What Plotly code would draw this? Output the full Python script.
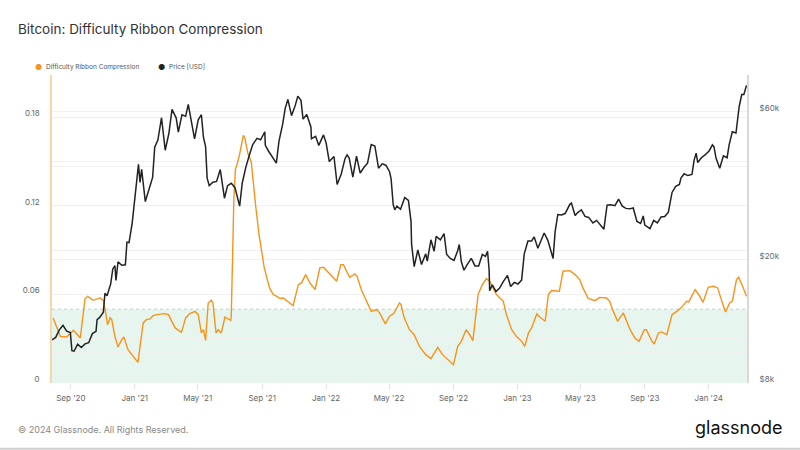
import plotly.graph_objects as go

# ---------------- data ----------------
drc_dates = [
    "2020-07-29", "2020-08-12", "2020-08-24", "2020-09-06", "2020-09-19", "2020-09-28", "2020-10-03",
    "2020-10-14", "2020-10-27", "2020-11-02", "2020-11-07", "2020-11-10", "2020-11-15", "2020-11-18",
    "2020-11-24", "2020-11-30", "2020-12-07", "2020-12-11", "2020-12-19", "2020-12-29", "2021-01-07",
    "2021-01-17", "2021-01-23", "2021-01-30", "2021-02-05", "2021-02-12", "2021-02-27", "2021-03-06",
    "2021-03-19", "2021-03-31", "2021-04-08", "2021-04-16", "2021-04-26", "2021-05-02", "2021-05-08",
    "2021-05-12", "2021-05-16", "2021-05-21", "2021-05-27", "2021-05-30", "2021-06-03", "2021-06-05",
    "2021-06-09", "2021-06-15", "2021-06-22", "2021-06-28", "2021-07-03", "2021-07-04", "2021-07-06",
    "2021-07-09", "2021-07-12", "2021-07-15", "2021-07-20", "2021-07-27", "2021-07-30", "2021-08-05",
    "2021-08-11", "2021-08-14", "2021-08-20", "2021-08-26", "2021-09-05", "2021-09-15", "2021-09-22",
    "2021-09-29", "2021-10-05", "2021-10-11", "2021-10-18", "2021-10-30", "2021-11-09", "2021-11-15",
    "2021-11-23", "2021-12-01", "2021-12-11", "2021-12-20", "2021-12-27", "2022-01-02", "2022-01-15",
    "2022-01-21", "2022-01-29", "2022-02-03", "2022-02-09", "2022-02-15", "2022-02-25", "2022-03-01",
    "2022-03-09", "2022-03-19", "2022-03-28", "2022-04-07", "2022-04-13", "2022-04-24", "2022-05-02",
    "2022-05-10", "2022-05-21", "2022-05-24", "2022-05-30", "2022-06-09", "2022-06-18", "2022-06-28",
    "2022-07-10", "2022-07-20", "2022-08-02", "2022-08-11", "2022-08-24", "2022-09-01", "2022-09-09",
    "2022-09-16", "2022-09-25", "2022-10-02", "2022-10-08", "2022-10-18", "2022-10-26", "2022-11-03",
    "2022-11-09", "2022-11-22", "2022-12-05", "2022-12-11", "2022-12-21", "2022-12-30", "2023-01-09",
    "2023-01-15", "2023-01-22", "2023-01-28", "2023-02-07", "2023-02-13", "2023-02-23", "2023-03-01",
    "2023-03-07", "2023-03-22", "2023-03-29", "2023-04-08", "2023-04-11", "2023-04-21", "2023-04-30",
    "2023-05-06", "2023-05-16", "2023-05-29", "2023-06-07", "2023-06-20", "2023-06-26", "2023-07-03",
    "2023-07-11", "2023-07-22", "2023-07-28", "2023-08-04", "2023-08-13", "2023-08-21", "2023-08-31",
    "2023-09-04", "2023-09-14", "2023-09-19", "2023-09-27", "2023-10-03", "2023-10-13", "2023-10-23",
    "2023-11-01", "2023-11-09", "2023-11-20", "2023-11-24", "2023-12-06", "2023-12-15", "2023-12-21",
    "2023-12-31", "2024-01-10", "2024-01-18", "2024-01-26", "2024-02-02", "2024-02-10", "2024-02-15",
    "2024-02-23", "2024-02-27", "2024-03-07", "2024-03-13",
]
drc_values = [
    0.0441, 0.0316, 0.0312, 0.0357, 0.0305, 0.0570, 0.0587,
    0.0560, 0.0576, 0.0560, 0.0463, 0.0395, 0.0441, 0.0429,
    0.0316, 0.0244, 0.0294, 0.0312, 0.0226, 0.0180, 0.0140,
    0.0407, 0.0429, 0.0434, 0.0456, 0.0463, 0.0470, 0.0463,
    0.0373, 0.0343, 0.0441, 0.0470, 0.0485, 0.0463, 0.0339,
    0.0361, 0.0289, 0.0542, 0.0560, 0.0542, 0.0407, 0.0339,
    0.0361, 0.0339, 0.0447, 0.0434, 0.0424, 0.0450, 0.0800,
    0.1250, 0.1450, 0.1480, 0.1550, 0.1677, 0.1660, 0.1550,
    0.1500, 0.1390, 0.1187, 0.1005, 0.0780, 0.0644, 0.0599,
    0.0587, 0.0572, 0.0576, 0.0558, 0.0524, 0.0666, 0.0678,
    0.0734, 0.0678, 0.0633, 0.0780, 0.0784, 0.0761, 0.0712,
    0.0689, 0.0802, 0.0802, 0.0757, 0.0716, 0.0739, 0.0723,
    0.0633, 0.0553, 0.0485, 0.0497, 0.0475, 0.0400, 0.0452,
    0.0470, 0.0542, 0.0531, 0.0441, 0.0361, 0.0327, 0.0248,
    0.0192, 0.0165, 0.0241, 0.0192, 0.0151, 0.0124, 0.0248,
    0.0282, 0.0361, 0.0327, 0.0287, 0.0599, 0.0666, 0.0707,
    0.0689, 0.0599, 0.0553, 0.0463, 0.0361, 0.0316, 0.0282,
    0.0248, 0.0339, 0.0373, 0.0468, 0.0445, 0.0418, 0.0599,
    0.0626, 0.0621, 0.0757, 0.0761, 0.0761, 0.0734, 0.0700,
    0.0644, 0.0572, 0.0558, 0.0580, 0.0576, 0.0553, 0.0485,
    0.0418, 0.0475, 0.0418, 0.0361, 0.0305, 0.0282, 0.0361,
    0.0361, 0.0287, 0.0264, 0.0339, 0.0346, 0.0327, 0.0463,
    0.0485, 0.0509, 0.0553, 0.0549, 0.0633, 0.0587, 0.0546,
    0.0648, 0.0655, 0.0644, 0.0553, 0.0481, 0.0542, 0.0553,
    0.0700, 0.0716, 0.0644, 0.0587,
]

price_dates = [
    "2020-07-27", "2020-08-03", "2020-08-10", "2020-08-17", "2020-08-24", "2020-08-31", "2020-09-03",
    "2020-09-07", "2020-09-14", "2020-09-21", "2020-09-28", "2020-10-05", "2020-10-12", "2020-10-19",
    "2020-10-21", "2020-10-26", "2020-11-02", "2020-11-05", "2020-11-09", "2020-11-16", "2020-11-20",
    "2020-11-24", "2020-11-26", "2020-11-30", "2020-12-07", "2020-12-14", "2020-12-17", "2020-12-21",
    "2020-12-27", "2021-01-02", "2021-01-08", "2021-01-11", "2021-01-14", "2021-01-21", "2021-01-28",
    "2021-02-04", "2021-02-08", "2021-02-14", "2021-02-21", "2021-02-28", "2021-03-07", "2021-03-13",
    "2021-03-21", "2021-03-25", "2021-04-01", "2021-04-08", "2021-04-13", "2021-04-18", "2021-04-25",
    "2021-05-02", "2021-05-08", "2021-05-12", "2021-05-16", "2021-05-19", "2021-05-23", "2021-05-30",
    "2021-06-06", "2021-06-13", "2021-06-21", "2021-06-27", "2021-07-04", "2021-07-11", "2021-07-20",
    "2021-07-25", "2021-08-01", "2021-08-08", "2021-08-14", "2021-08-22", "2021-08-29", "2021-09-06",
    "2021-09-07", "2021-09-13", "2021-09-20", "2021-09-28", "2021-10-03", "2021-10-10", "2021-10-15",
    "2021-10-20", "2021-10-27", "2021-11-03", "2021-11-08", "2021-11-14", "2021-11-18", "2021-11-25",
    "2021-12-03", "2021-12-04", "2021-12-12", "2021-12-18", "2021-12-27", "2022-01-01", "2022-01-07",
    "2022-01-16", "2022-01-22", "2022-01-30", "2022-02-06", "2022-02-10", "2022-02-14", "2022-02-21",
    "2022-02-28", "2022-03-07", "2022-03-14", "2022-03-21", "2022-03-28", "2022-04-04", "2022-04-11",
    "2022-04-18", "2022-04-25", "2022-05-02", "2022-05-05", "2022-05-09", "2022-05-12", "2022-05-16",
    "2022-05-23", "2022-05-31", "2022-06-07", "2022-06-12", "2022-06-13", "2022-06-18", "2022-06-25",
    "2022-07-02", "2022-07-10", "2022-07-13", "2022-07-20", "2022-07-26", "2022-07-30", "2022-08-07",
    "2022-08-14", "2022-08-19", "2022-08-26", "2022-09-02", "2022-09-09", "2022-09-12", "2022-09-16",
    "2022-09-21", "2022-09-28", "2022-10-05", "2022-10-12", "2022-10-19", "2022-10-26", "2022-11-01",
    "2022-11-05", "2022-11-08", "2022-11-09", "2022-11-14", "2022-11-21", "2022-11-28", "2022-12-05",
    "2022-12-13", "2022-12-19", "2022-12-26", "2023-01-02", "2023-01-09", "2023-01-14", "2023-01-21",
    "2023-01-28", "2023-02-02", "2023-02-09", "2023-02-16", "2023-02-21", "2023-02-28", "2023-03-09",
    "2023-03-10", "2023-03-14", "2023-03-19", "2023-03-26", "2023-04-02", "2023-04-11", "2023-04-14",
    "2023-04-21", "2023-04-26", "2023-05-03", "2023-05-10", "2023-05-17", "2023-05-25", "2023-06-01",
    "2023-06-10", "2023-06-15", "2023-06-21", "2023-06-28", "2023-07-06", "2023-07-13", "2023-07-20",
    "2023-07-27", "2023-08-03", "2023-08-10", "2023-08-17", "2023-08-24", "2023-08-29", "2023-09-01",
    "2023-09-11", "2023-09-18", "2023-09-25", "2023-10-02", "2023-10-09", "2023-10-16", "2023-10-23",
    "2023-10-30", "2023-11-06", "2023-11-09", "2023-11-15", "2023-11-22", "2023-11-30", "2023-12-04",
    "2023-12-08", "2023-12-11", "2023-12-18", "2023-12-25", "2024-01-02", "2024-01-08", "2024-01-11",
    "2024-01-15", "2024-01-22", "2024-01-29", "2024-02-05", "2024-02-09", "2024-02-15", "2024-02-22",
    "2024-02-28", "2024-03-04", "2024-03-08", "2024-03-11", "2024-03-13",
]
price_values = [
    11030, 11230, 11880, 12290, 11760, 11650, 10170,
    10130, 10680, 10420, 10700, 10790, 11550, 11750,
    12820, 13030, 13550, 15590, 15300, 16720, 18680,
    19160, 17150, 19700, 19190, 19270, 22800, 22720,
    26270, 32130, 40670, 35570, 39190, 30830, 33470,
    36900, 46200, 48700, 57490, 45140, 51200, 61200,
    57350, 51700, 58800, 58100, 63500, 56200, 49100,
    56600, 58800, 49700, 46400, 36700, 34700, 35600,
    35800, 39100, 31600, 34700, 35300, 34240, 29800,
    35400, 39900, 43800, 47100, 49300, 48800, 51800,
    46800, 44900, 43000, 41000, 48200, 54700, 61700,
    65900, 58400, 62900, 67500, 65500, 56900, 58900,
    53700, 49200, 50100, 46800, 50600, 47700, 41500,
    43100, 35000, 37900, 42400, 43600, 42600, 37000,
    43200, 38100, 39700, 41000, 47100, 46600, 39500,
    40800, 40400, 38500, 36500, 30100, 29000, 29800,
    29100, 31800, 31100, 26600, 22500, 19000, 21500,
    19300, 20900, 19800, 23200, 21300, 23800, 23200,
    24300, 20800, 20200, 19900, 21400, 22400, 19700,
    18500, 19400, 20200, 19100, 19100, 20800, 20500,
    21300, 18500, 15900, 16600, 15800, 16200, 17000,
    17800, 16400, 16900, 16700, 17200, 20900, 23000,
    23000, 23700, 21800, 23500, 24400, 23100, 20400,
    20200, 24700, 28000, 27900, 28200, 30200, 30500,
    27800, 28400, 29000, 27600, 27400, 26300, 26800,
    25800, 25100, 30000, 30100, 29900, 31400, 29800,
    29300, 29200, 29400, 26600, 26200, 27700, 25900,
    25200, 26800, 26300, 27500, 27600, 28500, 33000,
    34500, 35000, 36700, 37900, 37400, 37700, 41900,
    44200, 41200, 42700, 43600, 45000, 47000, 46300,
    42500, 39500, 43300, 42700, 47100, 51800, 51300,
    62400, 68300, 68300, 72100, 73100,
]

left_tickvals = [0, 0.03, 0.06, 0.09, 0.12, 0.15, 0.18]
left_ticktext = ["0", "", "0.06", "", "0.12", "", "0.18"]
right_tickvals = [8000, 10000, 20000, 40000, 60000]
right_ticktext = ["$8k", "", "$20k", "", "$60k"]
x_tickvals = ["2020-09-01", "2021-01-01", "2021-05-01", "2021-09-01", "2022-01-01", "2022-05-01",
              "2022-09-01", "2023-01-01", "2023-05-01", "2023-09-01", "2024-01-01"]
x_ticktext = ["Sep '20", "Jan '21", "May '21", "Sep '21", "Jan '22", "May '22",
              "Sep '22", "Jan '23", "May '23", "Sep '23", "Jan '24"]
band_threshold = 0.05

# ---------------- layout geometry ----------------
W, H = 800, 450
L, R, T, B = 52, 747, 75, 383.3
pw, ph = R - L, B - T


def px(x):
    return (x - L) / pw


def py(y):
    return (B - y) / ph


ORANGE = "#f7931a"
DARK = "#222222"
FONT = "Inter, 'Open Sans', sans-serif"

fig = go.Figure()
fig.add_trace(go.Scatter(x=drc_dates, y=drc_values, mode="lines", name="Difficulty Ribbon Compression",
                         line=dict(color=ORANGE, width=1.4), yaxis="y", showlegend=False))
fig.add_trace(go.Scatter(x=price_dates, y=price_values, mode="lines", name="Price [USD]",
                         line=dict(color=DARK, width=1.5), yaxis="y2", showlegend=False))

# green band
fig.add_shape(type="rect", xref="paper", yref="y", x0=0, x1=1, y0=0, y1=band_threshold,
              fillcolor="#e6f6ee", line=dict(width=0), layer="below")
fig.add_shape(type="line", xref="paper", yref="y", x0=0, x1=1, y0=band_threshold, y1=band_threshold,
              line=dict(color="#bcd3c6", width=1, dash="dot"), layer="below")
# bottom border
fig.add_shape(type="line", xref="paper", yref="paper", x0=px(0), x1=px(W), y0=py(449), y1=py(449),
              line=dict(color="#cfcfcf", width=2))

tickfont = dict(family=FONT, size=8, color="#666")
fig.update_layout(
    width=W, height=H,
    margin=dict(l=L, r=W - R, t=T, b=H - B),
    paper_bgcolor="white", plot_bgcolor="white",
    font=dict(family=FONT),
    showlegend=False,
    xaxis=dict(type="date", range=["2020-07-27", "2024-03-14"], tickvals=x_tickvals, ticktext=x_ticktext,
               showgrid=False, zeroline=False, showline=False, ticks="outside", ticklen=5,
               tickcolor="#e3e3e3", tickfont=tickfont, ticklabelstandoff=2),
    yaxis=dict(range=[0, 0.2086], tickvals=left_tickvals, ticktext=left_ticktext, showgrid=True,
               gridcolor="#f0f0f0", gridwidth=1, zeroline=False, showline=True, linecolor="#fdd4a4",
               linewidth=1.5, ticks="", tickfont=tickfont, ticklabelstandoff=9, ticklabelshift=-4),
    yaxis2=dict(type="log", range=[3.9031, 4.8976], overlaying="y", side="right",
                tickvals=right_tickvals, ticktext=right_ticktext, showgrid=True, gridcolor="#f0f0f0",
                gridwidth=1, zeroline=False, showline=True, linecolor="#d9d9d9", linewidth=2,
                ticks="", tickfont=tickfont, ticklabelstandoff=9, ticklabelshift=-4),
)

ann = []
ann.append(dict(text="Bitcoin: Difficulty Ribbon Compression", x=px(16), y=py(29), xref="paper",
                yref="paper", xanchor="left", yanchor="middle", showarrow=False,
                font=dict(family=FONT, size=13.5, color="#333")))
legend_items = [("Difficulty Ribbon Compression", ORANGE, 38.3, 43.5), ("Price [USD]", DARK, 161.5, 166.5)]
for label, col, dx, tx in legend_items:
    ann.append(dict(text="●", x=px(dx), y=py(67), xref="paper", yref="paper", xanchor="center",
                    yanchor="middle", showarrow=False, font=dict(family=FONT, size=8, color=col)))
    ann.append(dict(text=label, x=px(tx), y=py(67), xref="paper", yref="paper", xanchor="left",
                    yanchor="middle", showarrow=False, font=dict(family=FONT, size=6.5, color="#555")))
ann.append(dict(text="© 2024 Glassnode. All Rights Reserved.", x=px(16), y=py(430), xref="paper",
                yref="paper", xanchor="left", yanchor="middle", showarrow=False,
                font=dict(family=FONT, size=9, color="#888")))
ann.append(dict(text="glassnode", x=px(784), y=py(428), xref="paper", yref="paper", xanchor="right",
                yanchor="middle", showarrow=False, font=dict(family=FONT, size=18, color="#111")))
fig.update_layout(annotations=ann)

fig.write_html("out.html", config={"displayModeBar": False},
               post_script="document.body.style.margin='0';")
